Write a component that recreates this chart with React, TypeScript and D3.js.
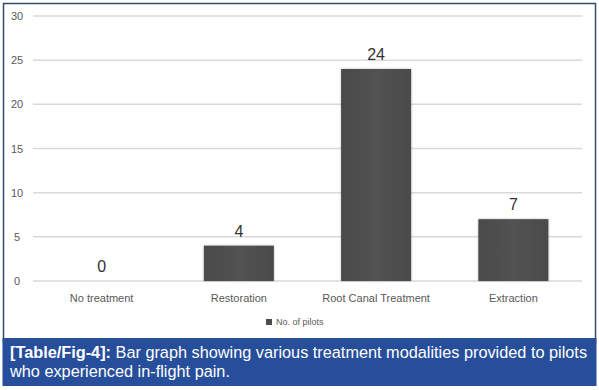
import React, { useEffect, useRef } from 'react';
import * as d3 from 'd3';

const categories = ['No treatment', 'Restoration', 'Root Canal Treatment', 'Extraction'];
const pilots = [0, 4, 24, 7];
const yTicks = [0, 5, 10, 15, 20, 25, 30];
const seriesName = 'No. of pilots';

const width = 599;
const height = 390;
const margin = { top: 16, right: 17, bottom: 109, left: 33 };

const App: React.FC = () => {
    const svgRef = useRef<SVGSVGElement>(null);

    useEffect(() => {
        if (!svgRef.current) return;
        const svg = d3.select(svgRef.current);
        svg.selectAll('*').remove();

        const x = d3.scaleBand<string>()
            .domain(categories)
            .range([margin.left, width - margin.right])
            .paddingInner(0.49)
            .paddingOuter(0.245);

        const y = d3.scaleLinear()
            .domain([0, 30])
            .range([height - margin.bottom, margin.top]);

        // white panel with border
        svg.append('rect')
            .attr('x', 3.5).attr('y', 3.5)
            .attr('width', 592).attr('height', 340)
            .attr('fill', '#fff')
            .attr('stroke', '#2f4c6e')
            .attr('stroke-width', 1.5);

        const defs = svg.append('defs');
        const grad = defs.append('linearGradient')
            .attr('id', 'barGrad').attr('x1', 0).attr('x2', 1).attr('y1', 0).attr('y2', 0);
        grad.append('stop').attr('offset', '0%').attr('stop-color', '#4a4a4a');
        grad.append('stop').attr('offset', '50%').attr('stop-color', '#525252');
        grad.append('stop').attr('offset', '100%').attr('stop-color', '#4b4b4b');
        const filter = defs.append('filter').attr('id', 'shadow')
            .attr('x', '-10%').attr('y', '-10%').attr('width', '120%').attr('height', '120%');
        filter.append('feDropShadow')
            .attr('dx', 0).attr('dy', 0).attr('stdDeviation', 1.2)
            .attr('flood-color', '#000').attr('flood-opacity', 0.3);

        // gridlines + y labels
        const grid = svg.append('g');
        grid.selectAll('line')
            .data(yTicks)
            .enter()
            .append('line')
            .attr('x1', margin.left)
            .attr('x2', width - margin.right)
            .attr('y1', d => y(d))
            .attr('y2', d => y(d))
            .attr('stroke', '#d9d9d9')
            .attr('stroke-width', 1.5);

        grid.selectAll('text')
            .data(yTicks)
            .enter()
            .append('text')
            .attr('x', 17)
            .attr('y', d => y(d) + 4)
            .attr('text-anchor', 'middle')
            .attr('font-family', 'Liberation Sans, Arial, sans-serif')
            .attr('font-size', '11px')
            .attr('fill', '#595959')
            .text(d => d);

        // bars
        svg.append('g')
            .selectAll('rect')
            .data(pilots)
            .enter()
            .append('rect')
            .attr('x', (d, i) => x(categories[i]) as number)
            .attr('y', d => y(d))
            .attr('width', x.bandwidth())
            .attr('height', d => y(0) - y(d))
            .attr('fill', 'url(#barGrad)')
            .attr('filter', 'url(#shadow)')
            .style('display', d => (d === 0 ? 'none' : null));

        // value labels
        svg.append('g')
            .selectAll('text')
            .data(pilots)
            .enter()
            .append('text')
            .attr('x', (d, i) => (x(categories[i]) as number) + x.bandwidth() / 2)
            .attr('y', d => y(d) - 9)
            .attr('text-anchor', 'middle')
            .attr('font-family', 'Liberation Sans, Arial, sans-serif')
            .attr('font-size', '16px')
            .attr('fill', '#333')
            .text(d => d);

        // category labels
        svg.append('g')
            .selectAll('text')
            .data(categories)
            .enter()
            .append('text')
            .attr('x', d => (x(d) as number) + x.bandwidth() / 2)
            .attr('y', y(0) + 21)
            .attr('text-anchor', 'middle')
            .attr('font-family', 'Liberation Sans, Arial, sans-serif')
            .attr('font-size', '11px')
            .attr('fill', '#595959')
            .text(d => d);

        // legend
        const legend = svg.append('g').attr('transform', 'translate(266,325)');
        legend.append('rect')
            .attr('x', 0).attr('y', -6)
            .attr('width', 6).attr('height', 6)
            .attr('fill', '#4d4d4d');
        legend.append('text')
            .attr('x', 10).attr('y', 0)
            .attr('font-family', 'Liberation Sans, Arial, sans-serif')
            .attr('font-size', '9px')
            .attr('fill', '#595959')
            .text(seriesName);

        // caption band
        svg.append('rect')
            .attr('x', 2.5).attr('y', 338)
            .attr('width', 594).attr('height', 48)
            .attr('fill', '#264e9a');

        const cap = svg.append('text')
            .attr('font-family', 'Liberation Sans, Arial, sans-serif')
            .attr('font-size', '16.3px')
            .attr('fill', '#fff');
        const l1 = cap.append('tspan').attr('x', 10).attr('y', 358);
        l1.append('tspan').attr('font-weight', 'bold').text('[Table/Fig-4]:');
        l1.append('tspan').text(' Bar graph showing various treatment modalities provided to pilots');
        cap.append('tspan').attr('x', 10).attr('y', 377).text('who experienced in-flight pain.');
    }, []);

    return (
        <svg ref={svgRef} width={width} height={height}
            style={{ position: 'absolute', left: 0, top: 0, background: '#fff' }} />
    );
};

export default App;
